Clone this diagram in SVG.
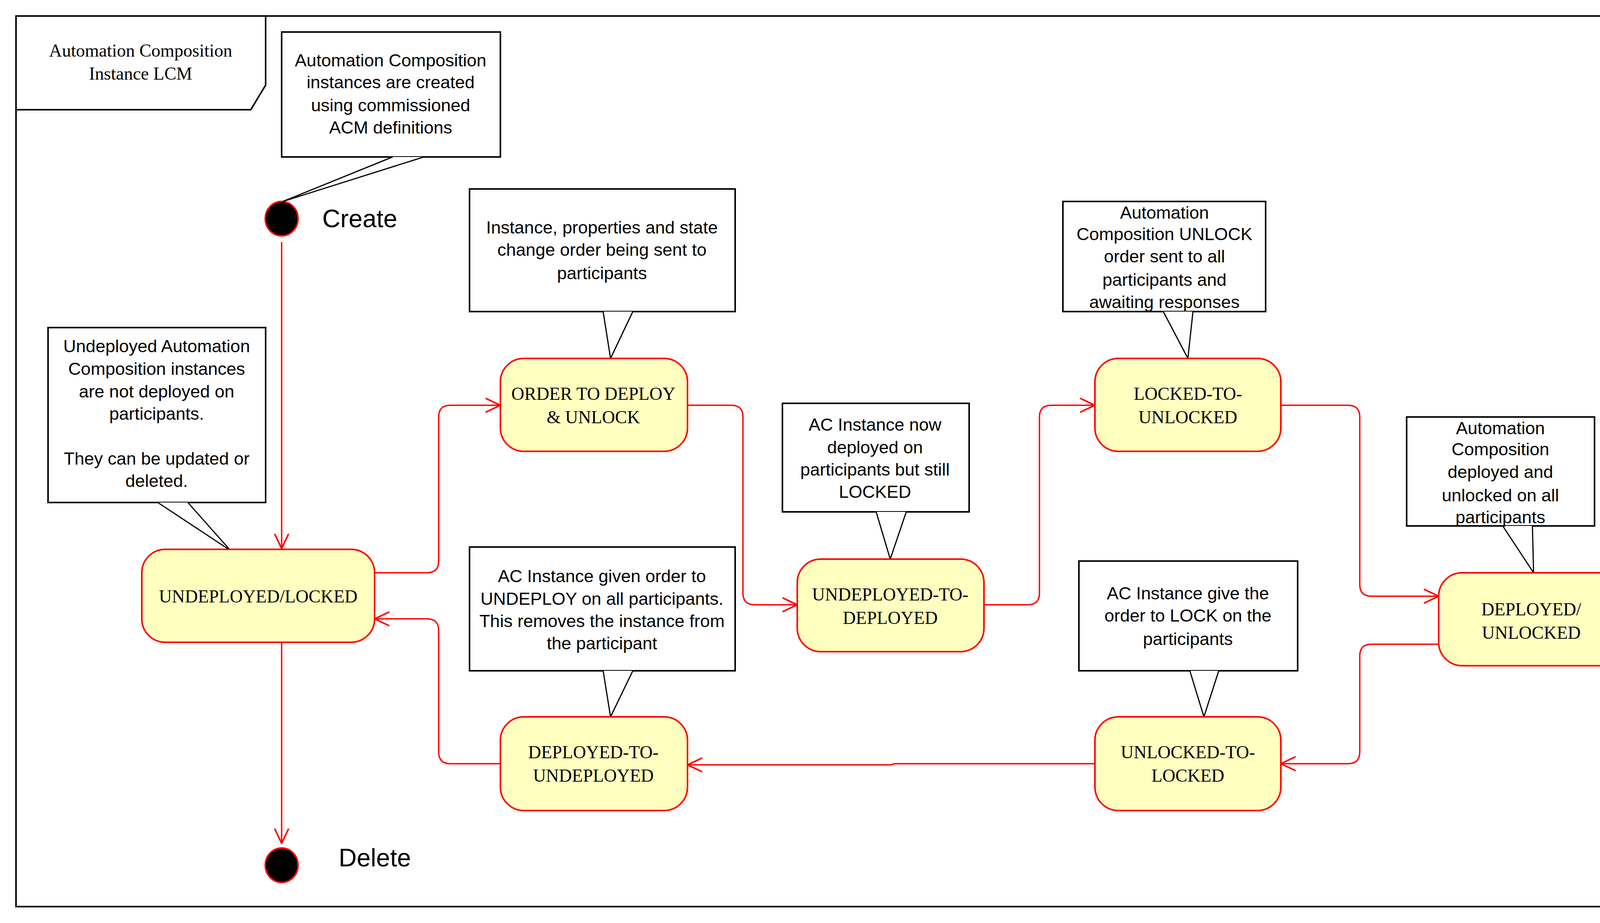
<svg xmlns="http://www.w3.org/2000/svg" width="4284" height="2364" viewBox="0 0 4284 2364">
<defs>
<style>
.frame{fill:none;stroke:#000;stroke-width:4}
.note{fill:#fff;stroke:#000;stroke-width:4}
.tail{fill:#fff;stroke:#000;stroke-width:3;stroke-linejoin:miter}
.nt{font-family:"Liberation Sans",Arial,sans-serif;font-size:45px;text-anchor:middle;fill:#000}
.st{fill:#ffffc0;stroke:#ff0000;stroke-width:4}
.stt{font-family:"Liberation Serif","Times New Roman",serif;font-size:46px;text-anchor:middle;fill:#000}
.init{fill:#000;stroke:#ff0000;stroke-width:4}
.lbl{font-family:"Liberation Sans",Arial,sans-serif;font-size:64px;fill:#000}
.edge{fill:none;stroke:#ff0000;stroke-width:3.5}
</style>
<marker id="arr" viewBox="0 0 20 20" refX="19" refY="10" markerWidth="20" markerHeight="20" markerUnits="userSpaceOnUse" orient="auto">
<path d="M0,0 L19,10 L0,20" fill="none" stroke="#ff0000" stroke-width="2.5"/>
</marker>
<marker id="arrB" viewBox="0 0 40 40" refX="38" refY="20" markerWidth="40" markerHeight="40" markerUnits="userSpaceOnUse" orient="auto">
<path d="M0,2 L38,20 L0,38" fill="none" stroke="#ff0000" stroke-width="4"/>
</marker>
</defs>
<rect x="0" y="0" width="4284" height="2364" fill="#fff"/>
<g id="frame">
<rect class="frame" x="41" y="41" width="4199" height="2281"/>
<path class="frame" d="M41,281 L642,281 L680,218 L680,41"/>
<text class="stt" x="360" y="145">Automation Composition</text>
<text class="stt" x="360" y="204">Instance LCM</text>
</g>
<g id="connectors">
<path class="edge" marker-end="url(#arrB)" d="M721,620 L721,1405"/>
<path class="edge" marker-end="url(#arrB)" d="M721,1645 L721,2160"/>
<path class="edge" marker-end="url(#arrB)" d="M959,1467 L1093,1467 Q1123,1467 1123,1437 L1123,1068 Q1123,1038 1153,1038 L1281,1038"/>
<path class="edge" marker-end="url(#arrB)" d="M1760,1038 L1872,1038 Q1902,1038 1902,1068 L1902,1519 Q1902,1549 1932,1549 L2041,1549"/>
<path class="edge" marker-end="url(#arrB)" d="M2519,1549 L2631,1549 Q2661,1549 2661,1519 L2661,1068 Q2661,1038 2691,1038 L2803,1038"/>
<path class="edge" marker-end="url(#arrB)" d="M3279,1038 L3451,1038 Q3481,1038 3481,1068 L3481,1497 Q3481,1527 3511,1527 L3683,1527"/>
<path class="edge" marker-end="url(#arrB)" d="M3683,1650 L3511,1650 Q3481,1650 3481,1680 L3481,1926 Q3481,1956 3451,1956 L3279,1956"/>
<path class="edge" marker-end="url(#arrB)" d="M2803,1956 L2290,1956 L2281,1959 L1760,1959"/>
<path class="edge" marker-end="url(#arrB)" d="M1281,1956 L1153,1956 Q1123,1956 1123,1926 L1123,1615 Q1123,1585 1093,1585 L959,1585"/>
</g>
<g id="create">
<ellipse class="init" cx="721" cy="560" rx="42" ry="44"/>
<text class="lbl" x="825" y="582">Create</text>
</g>
<g id="delete">
<ellipse class="init" cx="721" cy="2216" rx="42" ry="44"/>
<text class="lbl" x="867" y="2219">Delete</text>
</g>
<g id="note-create">
<rect class="note" x="721" y="82" width="560" height="320"/>
<path class="tail" d="M1005,402 L724,516 L1085,402"/>
<text class="nt" x="1000" y="170">Automation Composition</text>
<text class="nt" x="1000" y="226">instances are created</text>
<text class="nt" x="1000" y="285">using commissioned</text>
<text class="nt" x="1000" y="342">ACM definitions</text>
</g>
<g id="note-undeployed">
<rect class="note" x="123" y="839" width="557" height="448"/>
<path class="tail" d="M404,1287 L590,1410 L481,1287"/>
<text class="nt" x="401" y="902">Undeployed Automation</text>
<text class="nt" x="401" y="960">Composition instances</text>
<text class="nt" x="401" y="1018">are not deployed on</text>
<text class="nt" x="401" y="1075">participants.</text>
<text class="nt" x="401" y="1190">They can be updated or</text>
<text class="nt" x="401" y="1247">deleted.</text>
</g>
<g id="note-order">
<rect class="note" x="1202" y="484" width="680" height="314"/>
<path class="tail" d="M1544,798 L1563,918 L1620,798"/>
<text class="nt" x="1541" y="598">Instance, properties and state</text>
<text class="nt" x="1541" y="655">change order being sent to</text>
<text class="nt" x="1541" y="715">participants</text>
</g>
<g id="note-utd">
<rect class="note" x="2003" y="1033" width="478" height="278"/>
<path class="tail" d="M2243,1311 L2279,1432 L2320,1311"/>
<text class="nt" x="2240" y="1103">AC Instance now</text>
<text class="nt" x="2240" y="1161">deployed on</text>
<text class="nt" x="2240" y="1218">participants but still</text>
<text class="nt" x="2240" y="1275">LOCKED</text>
</g>
<g id="note-ltu">
<rect class="note" x="2721" y="516" width="519" height="282"/>
<path class="tail" d="M2978,798 L3041,918 L3054,798"/>
<text class="nt" x="2981" y="560">Automation</text>
<text class="nt" x="2981" y="615">Composition UNLOCK</text>
<text class="nt" x="2981" y="672">order sent to all</text>
<text class="nt" x="2981" y="732">participants and</text>
<text class="nt" x="2981" y="789">awaiting responses</text>
</g>
<g id="note-du">
<rect class="note" x="3601" y="1068" width="481" height="279"/>
<path class="tail" d="M3847,1347 L3926,1467 L3923,1347"/>
<text class="nt" x="3841" y="1112">Automation</text>
<text class="nt" x="3841" y="1166">Composition</text>
<text class="nt" x="3841" y="1224">deployed and</text>
<text class="nt" x="3841" y="1284">unlocked on all</text>
<text class="nt" x="3841" y="1340">participants</text>
</g>
<g id="note-utl">
<rect class="note" x="2762" y="1437" width="560" height="281"/>
<path class="tail" d="M3046,1718 L3082,1836 L3120,1718"/>
<text class="nt" x="3041" y="1535">AC Instance give the</text>
<text class="nt" x="3041" y="1592">order to LOCK on the</text>
<text class="nt" x="3041" y="1652">participants</text>
</g>
<g id="note-dtu">
<rect class="note" x="1202" y="1401" width="680" height="317"/>
<path class="tail" d="M1544,1718 L1563,1836 L1620,1718"/>
<text class="nt" x="1541" y="1491">AC Instance given order to</text>
<text class="nt" x="1541" y="1549">UNDEPLOY on all participants.</text>
<text class="nt" x="1541" y="1606">This removes the instance from</text>
<text class="nt" x="1541" y="1663">the participant</text>
</g>
<g id="undeployed-locked">
<rect class="st" x="363" y="1407" width="596" height="238" rx="60"/>
<text class="stt" x="661" y="1543">UNDEPLOYED/LOCKED</text>
</g>
<g id="order-to-deploy">
<rect class="st" x="1281" y="918" width="479" height="238" rx="60"/>
<text class="stt" x="1519" y="1024">ORDER TO DEPLOY</text>
<text class="stt" x="1519" y="1084">&amp; UNLOCK</text>
</g>
<g id="undeployed-to-deployed">
<rect class="st" x="2041" y="1432" width="478" height="237" rx="60"/>
<text class="stt" x="2279" y="1538">UNDEPLOYED-TO-</text>
<text class="stt" x="2279" y="1598">DEPLOYED</text>
</g>
<g id="locked-to-unlocked">
<rect class="st" x="2803" y="918" width="476" height="238" rx="60"/>
<text class="stt" x="3041" y="1024">LOCKED-TO-</text>
<text class="stt" x="3041" y="1084">UNLOCKED</text>
</g>
<g id="deployed-unlocked">
<rect class="st" x="3683" y="1467" width="475" height="238" rx="60"/>
<text class="stt" x="3920" y="1576">DEPLOYED/</text>
<text class="stt" x="3920" y="1636">UNLOCKED</text>
</g>
<g id="unlocked-to-locked">
<rect class="st" x="2803" y="1836" width="476" height="240" rx="60"/>
<text class="stt" x="3041" y="1942">UNLOCKED-TO-</text>
<text class="stt" x="3041" y="2002">LOCKED</text>
</g>
<g id="deployed-to-undeployed">
<rect class="st" x="1281" y="1836" width="479" height="240" rx="60"/>
<text class="stt" x="1519" y="1942">DEPLOYED-TO-</text>
<text class="stt" x="1519" y="2002">UNDEPLOYED</text>
</g>
</svg>
